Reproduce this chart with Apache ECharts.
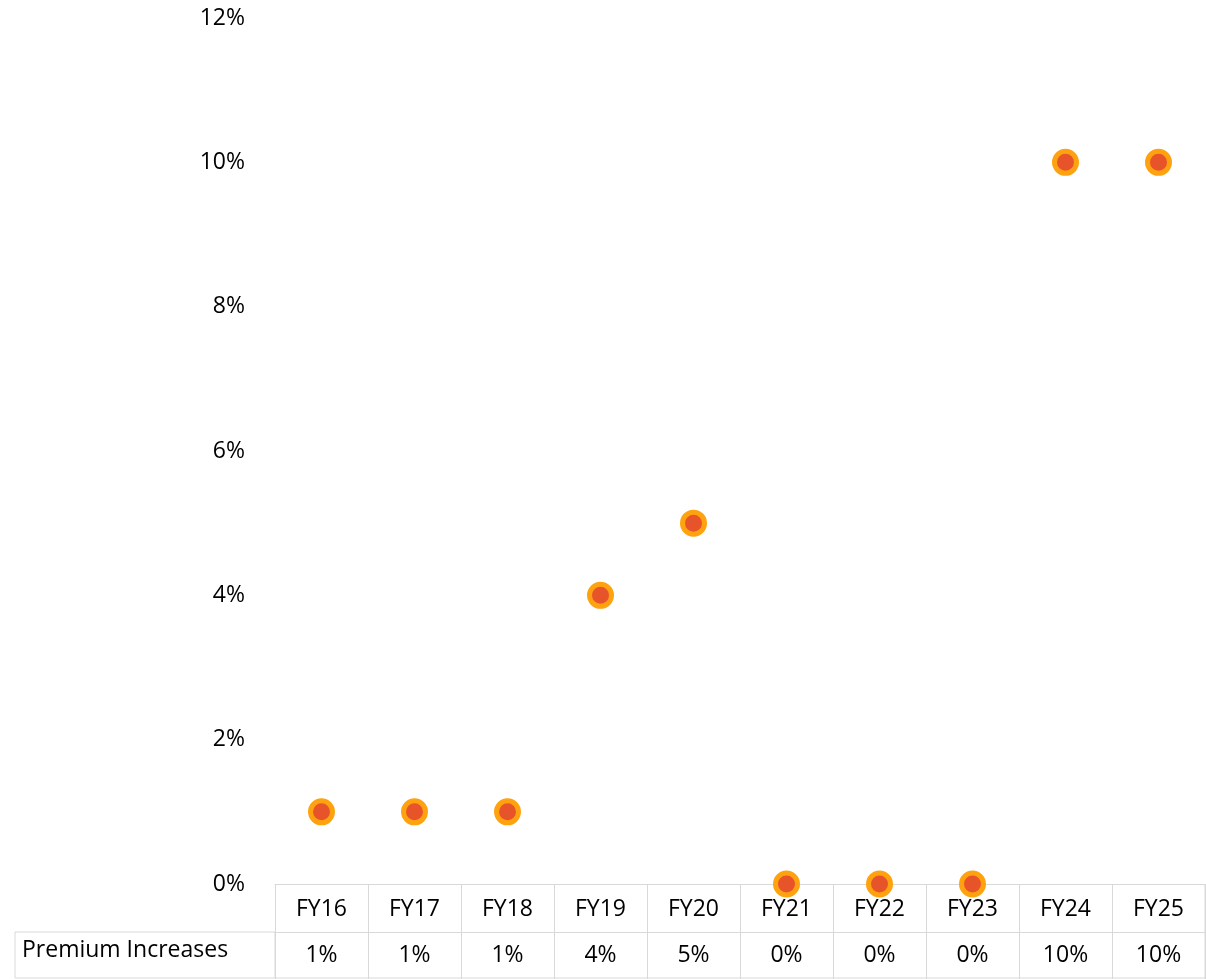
<!DOCTYPE html>
<html><head><meta charset="utf-8">
<script src="https://cdn.jsdelivr.net/npm/echarts@6/dist/echarts.min.js"></script>
<style>html,body{margin:0;padding:0;background:#fff}#c{width:1206px;height:979px}</style>
</head><body><div id="c"></div>
<script>
var categories = ['FY16','FY17','FY18','FY19','FY20','FY21','FY22','FY23','FY24','FY25'];
var premiumIncreases = [1, 1, 1, 4, 5, 0, 0, 0, 10, 10];
var yTicks = [0, 2, 4, 6, 8, 10, 12];

var chart = echarts.init(document.getElementById('c'));
var font = 'Open Sans';
var grey = '#d9d9d9';
chart.setOption({
    animation: false,
    textStyle: { fontFamily: font },
    grid: { left: 275, right: 1, top: 18, bottom: 95 },
    xAxis: [{
        type: 'category',
        data: categories,
        axisLine: { lineStyle: { color: grey } },
        axisTick: { show: true, length: 95, lineStyle: { color: grey } },
        axisLabel: { color: '#000', fontSize: 23, margin: 14, fontFamily: font }
    }, {
        type: 'category',
        position: 'bottom',
        offset: 48,
        data: premiumIncreases.map(function (v) { return v + '%'; }),
        axisLine: { show: true, lineStyle: { color: grey } },
        axisTick: { show: false },
        axisLabel: { color: '#000', fontSize: 23, margin: 12, fontFamily: font }
    }],
    yAxis: {
        type: 'value', min: yTicks[0], max: yTicks[yTicks.length - 1], interval: 2,
        axisLine: { show: false }, axisTick: { show: false }, splitLine: { show: false },
        axisLabel: { formatter: '{value}%', color: '#000', fontSize: 23, margin: 30, fontFamily: font }
    },
    graphic: [
        { type: 'rect', shape: { x: 15, y: 932, width: 260, height: 46 }, style: { fill: 'none', stroke: grey, lineWidth: 1 } },
        { type: 'line', shape: { x1: 275, y1: 978, x2: 1206, y2: 978 }, style: { stroke: grey, lineWidth: 1 } },
        { type: 'line', shape: { x1: 1205, y1: 884, x2: 1205, y2: 979 }, style: { stroke: grey, lineWidth: 1 } },
        { type: 'text', left: 22, top: 939, style: { text: 'Premium Increases', fontSize: 23, fontFamily: font, fill: '#000' } }
    ],
    series: [{
        name: 'Premium Increases',
        type: 'scatter',
        symbol: 'circle',
        symbolSize: 22,
        itemStyle: { color: '#e8542a', borderColor: '#ffa20f', borderWidth: 5, opacity: 1 },
        data: premiumIncreases
    }]
});
</script></body></html>
